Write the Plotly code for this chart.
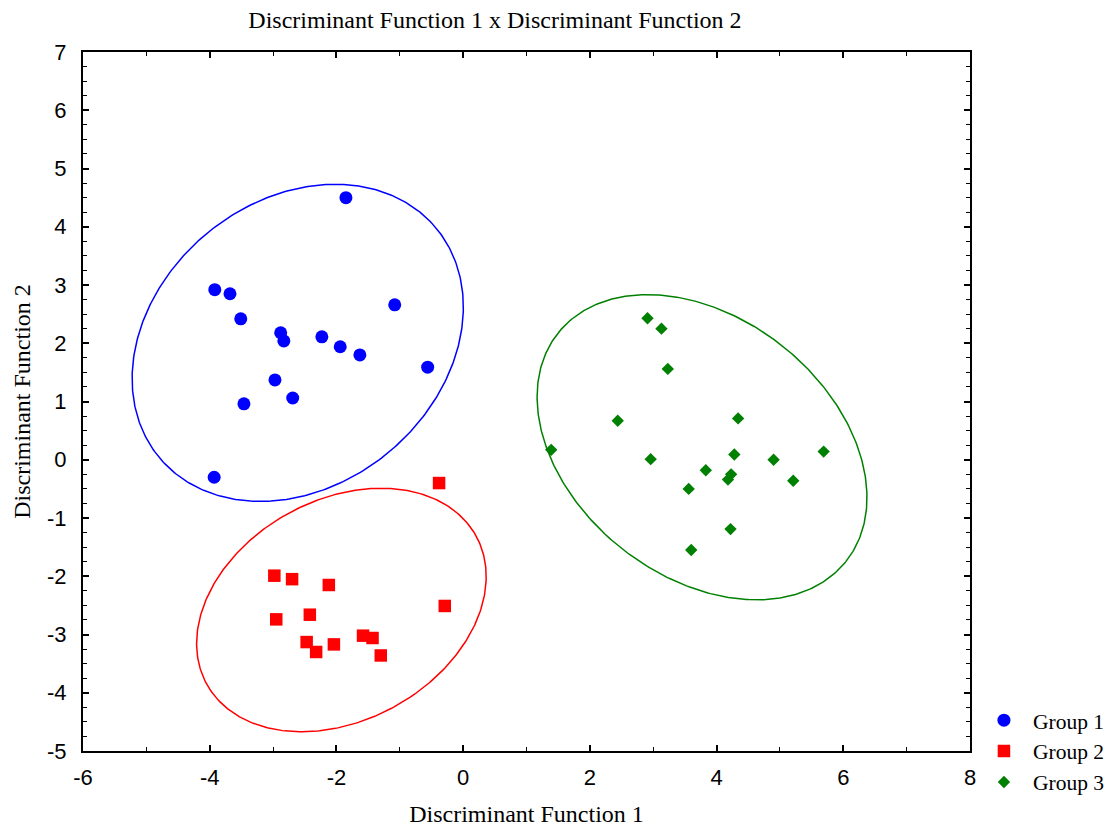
import numpy as np
import plotly.graph_objects as go

# ---- data ----
group_names = ["Group 1", "Group 2", "Group 3"]

g1_x = [-1.85, -3.92, -3.68, -3.51, -2.88, -2.83, -2.23, -1.94, -1.63, -1.08, -0.56, -2.97, -2.69, -3.46, -3.93]
g1_y = [4.50, 2.92, 2.85, 2.42, 2.18, 2.04, 2.11, 1.94, 1.80, 2.66, 1.59, 1.37, 1.06, 0.96, -0.30]

g2_x = [-0.38, -2.98, -2.70, -2.12, -0.29, -2.95, -2.42, -2.47, -2.32, -2.04, -1.58, -1.43, -1.30]
g2_y = [-0.40, -1.99, -2.05, -2.15, -2.51, -2.74, -2.66, -3.13, -3.30, -3.17, -3.02, -3.06, -3.36]

g3_x = [2.91, 3.13, 3.23, 2.44, 4.34, 1.39, 2.96, 4.28, 4.90, 5.69, 3.83, 4.23, 4.18, 5.21, 3.56, 4.22, 3.60]
g3_y = [2.43, 2.25, 1.56, 0.67, 0.71, 0.17, 0.01, 0.09, 0.00, 0.14, -0.18, -0.25, -0.34, -0.36, -0.50, -1.19, -1.55]

x_ticks = [-6, -4, -2, 0, 2, 4, 6, 8]
y_ticks = [-5, -4, -3, -2, -1, 0, 1, 2, 3, 4, 5, 6, 7]

colors = ["#0000FF", "#FF0000", "#008000"]
symbols = ["circle", "square", "diamond"]
sizes = [13, 12.5, 9.5]

PRED_LEVEL = 0.90  # prediction-ellipse coverage


def ellipse(x, y, p=PRED_LEVEL, n_pts=400):
    x = np.asarray(x); y = np.asarray(y)
    n = len(x)
    m = n - 2
    f_q = (m / 2.0) * ((1 - p) ** (-2.0 / m) - 1)      # F(2, n-2) quantile
    k = 2.0 * (n - 1) * (n + 1) / (n * (n - 2)) * f_q   # prediction ellipse constant
    cov = np.cov(x, y)
    vals, vecs = np.linalg.eigh(cov)
    t = np.linspace(0, 2 * np.pi, n_pts)
    circ = np.vstack([np.cos(t), np.sin(t)]) * np.sqrt(k * vals)[:, None]
    pts = vecs @ circ
    return x.mean() + pts[0], y.mean() + pts[1]


fig = go.Figure()
groups = [(g1_x, g1_y), (g2_x, g2_y), (g3_x, g3_y)]
for (gx, gy), name, c in zip(groups, group_names, colors):
    ex, ey = ellipse(gx, gy)
    fig.add_trace(go.Scatter(x=ex, y=ey, mode="lines", line=dict(color=c, width=1.5),
                             showlegend=False, hoverinfo="skip"))
for (gx, gy), name, c, s, sz in zip(groups, group_names, colors, symbols, sizes):
    fig.add_trace(go.Scatter(x=gx, y=gy, mode="markers", name=name,
                             marker=dict(color=c, symbol=s, size=sz, line=dict(width=0))))

serif = "Liberation Serif, Times New Roman, serif"
sans = "Liberation Sans, Arial, sans-serif"

axis_common = dict(
    showline=True, linecolor="black", linewidth=2, mirror="ticks",
    ticks="inside", ticklen=6, tickwidth=1.5, tickcolor="black",
    showgrid=False, zeroline=False, automargin=False,
    tickfont=dict(family=sans, size=22, color="black"),
)

fig.update_xaxes(range=[-6, 8], tickvals=x_ticks, ticktext=[str(v) for v in x_ticks],
                 minor=dict(dtick=1, ticks="inside", ticklen=4, tickwidth=1, tickcolor="black"),
                 title=dict(text="Discriminant Function 1", font=dict(family=serif, size=24, color="black"), standoff=21),
                 ticklabelstandoff=6,
                 **axis_common)
fig.update_yaxes(range=[-5, 7], tickvals=y_ticks, ticktext=[str(v) for v in y_ticks],
                 minor=dict(dtick=0.25, ticks="inside", ticklen=4, tickwidth=1, tickcolor="black"),
                 title=dict(text="Discriminant Function 2", font=dict(family=serif, size=24, color="black"), standoff=10),
                 ticklabelstandoff=10,
                 **axis_common)

fig.update_layout(
    width=1108, height=819,
    margin=dict(l=75, r=146, t=44, b=76, autoexpand=False),
    plot_bgcolor="white", paper_bgcolor="white",
    title=dict(text="Discriminant Function 1 x Discriminant Function 2",
               font=dict(family=serif, size=24, color="black"),
               x=0.4395, xanchor="center", xref="container",
               y=0.9853, yanchor="middle", yref="container"),
    legend=dict(x=0.8727, xanchor="left", y=0.0297, yanchor="bottom",
                xref="container", yref="container",
                font=dict(family=serif, size=21.5, color="black"),
                itemwidth=48, bgcolor="rgba(0,0,0,0)", tracegroupgap=0),
    showlegend=True,
)

fig.write_html("out.html")
